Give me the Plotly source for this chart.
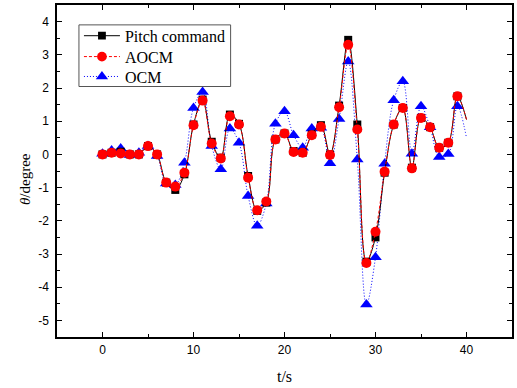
import plotly.graph_objects as go

t = list(range(0, 41))
pitch = [0, 0.05, 0.08, 0.0, 0.0, 0.25, 0.0, -0.85, -1.07, -0.6,
         0.9, 1.65, 0.38, -0.1, 1.2, 0.92, -0.65, -1.7, -1.45, 0.45,
         0.63, 0.1, 0.05, 0.6, 0.88, 0.0, 1.47, 3.45, 0.9, -3.23,
         -2.5, -0.55, 0.9, 1.4, -0.4, 1.1, 0.82, 0.2, 0.35, 1.75, 1.05]
aocm = [0, 0.05, 0.03, 0.0, 0.0, 0.25, 0.0, -0.85, -0.97, -0.55,
        0.88, 1.62, 0.33, -0.12, 1.15, 0.9, -0.7, -1.68, -1.42, 0.45,
        0.63, 0.07, 0.05, 0.58, 0.83, -0.02, 1.42, 3.3, 0.75, -3.27,
        -2.33, -0.52, 0.9, 1.4, -0.42, 1.1, 0.82, 0.2, 0.35, 1.75, 1.05]
ocm = [0.02, 0.12, 0.18, -0.02, 0.05, 0.25, -0.05, -0.88, -0.92, -0.25,
       1.4, 1.88, 0.25, -0.45, 0.78, 0.35, -1.25, -2.15, -1.48, 0.92,
       1.3, 0.58, 0.2, 0.78, 0.8, -0.27, 1.07, 2.8, -0.15, -4.52,
       -3.1, -0.28, 1.63, 2.2, 0.02, 1.45, 0.82, -0.08, 0.01, 1.45, 0.5]

x_ticks = [0, 10, 20, 30, 40]
x_labels = ["0", "10", "20", "30", "40"]
y_ticks = [-5, -4, -3, -2, -1, 0, 1, 2, 3, 4]
y_labels = ["-5", "-4", "-3", "-2", "-1", "0", "1", "2", "3", "4"]

n = len(t)

def sizes(s):
    return [s] * (n - 1) + [0]

fig = go.Figure()
fig.add_trace(go.Scatter(
    x=t, y=ocm, name="OCM", mode="lines+markers", legend="legend3",
    line=dict(color="blue", width=1, dash="1px,2px", shape="spline", smoothing=1),
    marker=dict(symbol="triangle-up", size=sizes(11), color="blue",
                opacity=1, line=dict(width=0)),
))
fig.add_trace(go.Scatter(
    x=t, y=pitch, name="Pitch command", mode="lines+markers", legend="legend",
    line=dict(color="black", width=1, shape="spline", smoothing=1),
    marker=dict(symbol="square", size=sizes(8), color="black",
                opacity=1, line=dict(width=0)),
))
fig.add_trace(go.Scatter(
    x=t, y=aocm, name="AOCM", mode="lines+markers", legend="legend2",
    line=dict(color="red", width=1, dash="3px,2px", shape="spline", smoothing=1),
    marker=dict(symbol="circle", size=sizes(10), color="red",
                opacity=1, line=dict(width=0)),
))

axis_common = dict(
    showgrid=False, zeroline=False, showline=True, linecolor="black",
    linewidth=1.5, mirror="ticks", ticks="inside", ticklen=5, tickwidth=1.2,
    tickcolor="black",
    tickfont=dict(family="Liberation Sans, Arial", size=12, color="black"),
)

# plot area in pixels: x 57..513, y 3..337
def py(row_px):
    return (337 - row_px) / 334.0

def px(col_px):
    return (col_px - 57) / 456.0

legend_font = dict(family="Liberation Serif, Times New Roman", size=16, color="black")

def leg(row_px):
    return dict(x=px(79), y=py(row_px), xanchor="left", yanchor="middle",
                bgcolor="rgba(0,0,0,0)", borderwidth=0, font=legend_font,
                itemwidth=36, tracegroupgap=0)

fig.update_layout(
    width=517, height=388,
    margin=dict(l=57, r=4, t=3, b=51),
    paper_bgcolor="white", plot_bgcolor="white",
    xaxis=dict(range=[-5, 45], tickvals=x_ticks, ticktext=x_labels,
               minor=dict(dtick=5, tick0=0, ticks="inside", ticklen=3, tickcolor="black"),
               ticklabelstandoff=1,
               title=dict(text="t/s", font=dict(family="Liberation Serif, Times New Roman", size=16, color="black"), standoff=15),
               **axis_common),
    yaxis=dict(range=[-5.5, 4.5], tickvals=y_ticks, ticktext=y_labels,
               minor=dict(dtick=0.5, tick0=0, ticks="inside", ticklen=3, tickcolor="black"),
               ticklabelstandoff=4,
               **axis_common),
    legend=leg(34),
    legend2=leg(55),
    legend3=leg(75),
    showlegend=True,
    shapes=[dict(type="rect", xref="paper", yref="paper",
                 x0=px(79), x1=px(231), y0=py(85), y1=py(23),
                 line=dict(color="#555", width=1), fillcolor="white",
                 layer="above")],
    annotations=[dict(
        text="<i>θ</i>/degree", xref="paper", yref="paper", x=px(25), y=py(178),
        textangle=-90, showarrow=False, xanchor="center", yanchor="middle",
        font=dict(family="Liberation Serif, Times New Roman", size=15, color="black"),
    )],
)

fig.write_html("out.html")
